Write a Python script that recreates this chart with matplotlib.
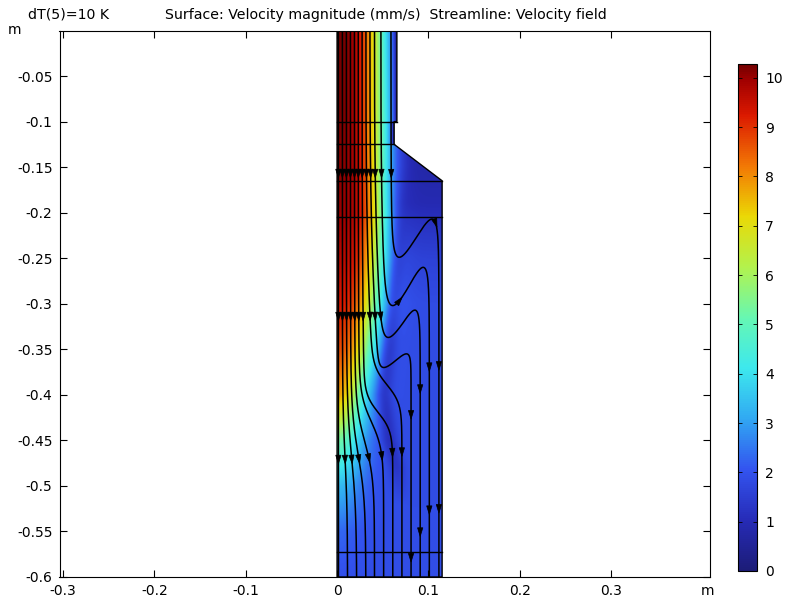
import numpy as np
import matplotlib
matplotlib.use('Agg')
import matplotlib.pyplot as plt
from matplotlib.colors import LinearSegmentedColormap
from matplotlib.patches import Polygon

# ---------------------------------------------------------------------------
# values
# ---------------------------------------------------------------------------

# domain outline (m) and the inner boundary lines
wall_x = [0.0, 0.0655, 0.0655, 0.0625, 0.0625, 0.115, 0.115, 0.0]
wall_y = [0.0, 0.0, -0.1, -0.1, -0.125, -0.165, -0.6, -0.6]
cut_y = [-0.1, -0.125, -0.165, -0.205, -0.5725]
cut_x = [0.0655, 0.0625, 0.115, 0.115, 0.115]

# jet: speed on the axis (mm/s), its width (m) and how flat its top is
jet_y = [0.0, -0.1, -0.2, -0.25, -0.3, -0.35, -0.4, -0.45, -0.5, -0.55, -0.6]
jet_v = [10.25, 10.2, 10.0, 9.7, 9.3, 8.7, 7.8, 5.3, 3.4, 2.3, 1.95]
jet_b = [0.054, 0.054, 0.053, 0.05, 0.046, 0.039, 0.031, 0.029, 0.028, 0.028, 0.028]
jet_p = [3.0, 3.0, 3.4, 3.0, 2.6, 2.4, 2.0, 2.0, 2.0, 2.0, 2.0]

# slow flow beside the jet, and the darker streak next to it
side_y = [0.0, -0.12, -0.165, -0.19, -0.21, -0.25, -0.3, -0.6]
side_v = [0.2, 0.7, 0.85, 0.95, 1.2, 1.6, 1.85, 1.9]
dip_y = [-0.15, -0.2, -0.25, -0.3, -0.35, -0.4, -0.45, -0.48, -0.52]
dip_x = [0.072, 0.069, 0.065, 0.06, 0.056, 0.051, 0.057, 0.065, 0.07]
dip_v = [0.0, 0.3, 0.7, 0.95, 1.0, 0.9, 0.8, 0.6, 0.0]

# streamlines: x at the top, x just before they turn, x at the bottom
sl_top = [0.0014, 0.0058, 0.0102, 0.0146, 0.019, 0.0232, 0.0274, 0.0316, 0.036, 0.041, 0.048, 0.059]
sl_mid = [0.0014, 0.006, 0.0106, 0.0152, 0.02, 0.0245, 0.03, 0.04, 0.047, 0.052, 0.056, 0.061]
sl_bot = [0.0015, 0.0115, 0.0215, 0.0315, 0.041, 0.051, 0.061, 0.071, 0.081, 0.091, 0.101, 0.1115]
# inner lines bend smoothly (y of bend, width)
bend_y = [-0.47, -0.47, -0.47, -0.467, -0.452, -0.43, -0.42, -0.39]
bend_w = [0.03, 0.03, 0.03, 0.025, 0.02, 0.015, 0.01, 0.01]
# outer lines fold back (y of the trough, y of the crest)
fold_lo = [-0.370, -0.337, -0.302, -0.249]
fold_hi = [-0.355, -0.307, -0.260, -0.207]
arrow_gap = 0.157

x_ticks = [-0.3, -0.2, -0.1, 0.0, 0.1, 0.2, 0.3]
x_labels = ['-0.3', '-0.2', '-0.1', '0', '0.1', '0.2', '0.3']
y_ticks = [-0.05, -0.1, -0.15, -0.2, -0.25, -0.3, -0.35, -0.4, -0.45, -0.5, -0.55, -0.6]
y_labels = ['-0.05', '-0.1', '-0.15', '-0.2', '-0.25', '-0.3', '-0.35', '-0.4',
            '-0.45', '-0.5', '-0.55', '-0.6']
cb_ticks = list(range(11))
v_max = 10.28

# ---------------------------------------------------------------------------
# colour table (COMSOL-like rainbow)
# ---------------------------------------------------------------------------
rainbow = LinearSegmentedColormap.from_list('rainbow_c', [
    (0.00, (0.11, 0.11, 0.47)),
    (0.10, (0.15, 0.17, 0.72)),
    (0.20, (0.20, 0.33, 0.94)),
    (0.30, (0.19, 0.66, 0.95)),
    (0.40, (0.24, 0.91, 0.93)),
    (0.50, (0.40, 0.97, 0.70)),
    (0.60, (0.70, 0.95, 0.30)),
    (0.70, (0.92, 0.85, 0.02)),
    (0.80, (0.95, 0.47, 0.02)),
    (0.90, (0.86, 0.10, 0.00)),
    (0.97, (0.63, 0.00, 0.00)),
    (1.00, (0.45, 0.00, 0.00))])


def at(y, ys, vs):
    return np.interp(-y, -np.asarray(ys), vs)


# ---------------------------------------------------------------------------
# velocity magnitude field
# ---------------------------------------------------------------------------
gx = np.linspace(0, 0.116, 300)
gy = np.linspace(-0.6, 0.0, 1300)
X, Y = np.meshgrid(gx, gy)
vc = at(Y, jet_y, jet_v)
b = at(Y, jet_y, jet_b)
p = at(Y, jet_y, jet_p)
G = np.exp(-(X / b) ** p)
vb = at(Y, side_y, side_v) - at(Y, dip_y, dip_v) * np.exp(-((X - at(Y, dip_y, dip_x)) / 0.009) ** 2)
V = vb * (1 - G) + vc * G
xr = np.where(Y > -0.1, 0.0655, 0.0625)
top = Y > -0.125
V[top] = V[top] * (1 - np.exp(-np.clip(xr[top] - X[top], 0, None) / 0.0025))
V = np.clip(V, 0, v_max)

# ---------------------------------------------------------------------------
# figure
# ---------------------------------------------------------------------------
fig = plt.figure(figsize=(7.88, 5.99), dpi=100)
ax = fig.add_axes([59.5 / 788, 22 / 599, 650.5 / 788, 546.5 / 599])

im = ax.imshow(V, extent=[0, 0.116, -0.6, 0], origin='lower', cmap=rainbow,
               vmin=0, vmax=v_max, interpolation='bilinear', aspect='auto', zorder=1)
dom = Polygon(np.column_stack([wall_x, wall_y]), closed=True, facecolor='none',
              edgecolor='black', lw=1.0, zorder=4)
ax.add_patch(dom)
im.set_clip_path(dom)
for cy, cx in zip(cut_y, cut_x):
    ax.plot([0, cx], [cy, cy], color='black', lw=1.0, zorder=4)

# streamlines
s1 = 0.15
Lf = np.log((1 - s1) / s1)
kf = (1 - 2 * s1) - 2 * s1 * (1 - s1) * Lf
turns = [(-yb, w, 0.0) for yb, w in zip(bend_y, bend_w)]
for lo, hi in zip(fold_lo, fold_hi):
    h = (hi - lo) / kf
    w = s1 * (1 - s1) * h
    tc = -lo + (s1 * (1 - s1) * Lf + s1) * h
    turns.append((tc, w, h))

a_len, a_wid = 0.0095, 0.0058
for x0, xm, x1, (tc, w, h) in zip(sl_top, sl_mid, sl_bot, turns):
    t = np.linspace(0, 0.6 + h + 0.01, 5000)
    s = 1 / (1 + np.exp(-(t - tc) / w))
    pre = x0 + (xm - x0) * np.clip(t / tc, 0, 1) ** 3
    x = pre + (x1 - pre) * s
    y = -t + h * s
    keep = y >= -0.6
    x, y = x[keep], y[keep]
    ax.plot(x, y, color='black', lw=1.1, zorder=3)
    arc = np.concatenate([[0], np.cumsum(np.hypot(np.diff(x), np.diff(y)))])
    for a in np.arange(arrow_gap, arc[-1], arrow_gap):
        i = np.searchsorted(arc, a)
        i = min(max(i, 1), len(x) - 2)
        dx, dy = x[i + 1] - x[i - 1], y[i + 1] - y[i - 1]
        n = np.hypot(dx, dy)
        dx, dy = dx / n, dy / n
        tip = (x[i] + dx * a_len / 2, y[i] + dy * a_len / 2)
        bx, by = x[i] - dx * a_len / 2, y[i] - dy * a_len / 2
        tri = [tip, (bx - dy * a_wid / 2, by + dx * a_wid / 2),
               (bx + dy * a_wid / 2, by - dx * a_wid / 2)]
        ax.add_patch(Polygon(tri, closed=True, facecolor='black', edgecolor='black',
                             lw=0.5, zorder=3))

ax.set_xlim(-0.3039, 0.4083)
ax.set_ylim(-0.6, 0.0)
ax.set_xticks(x_ticks)
ax.set_xticklabels(x_labels)
ax.set_yticks(y_ticks)
ax.set_yticklabels(y_labels)
ax.tick_params(direction='in', length=4.8, width=0.8, top=True, right=True,
               labelsize=10, pad=5)
for sp in ax.spines.values():
    sp.set_linewidth(0.8)

fig.text(707 / 788, 1 - 591 / 599, 'm', ha='center', va='center', fontsize=10)
fig.text(14 / 788, 1 - 30 / 599, 'm', ha='center', va='center', fontsize=10)
fig.text(28 / 788, 1 - 15 / 599, 'dT(5)=10 K', ha='left', va='center', fontsize=10.2)
fig.text(165 / 788, 1 - 15 / 599,
         'Surface: Velocity magnitude (mm/s)  Streamline: Velocity field',
         ha='left', va='center', fontsize=10.2)

# colour legend
cax = fig.add_axes([738 / 788, 28 / 599, 19 / 788, 507 / 599])
cb = fig.colorbar(im, cax=cax, ticks=cb_ticks)
cb.outline.set_linewidth(0.8)
cax.tick_params(direction='in', length=3, width=0.6, left=True, right=True,
                labelsize=10, pad=6)

fig.savefig('out.png', dpi=100)
